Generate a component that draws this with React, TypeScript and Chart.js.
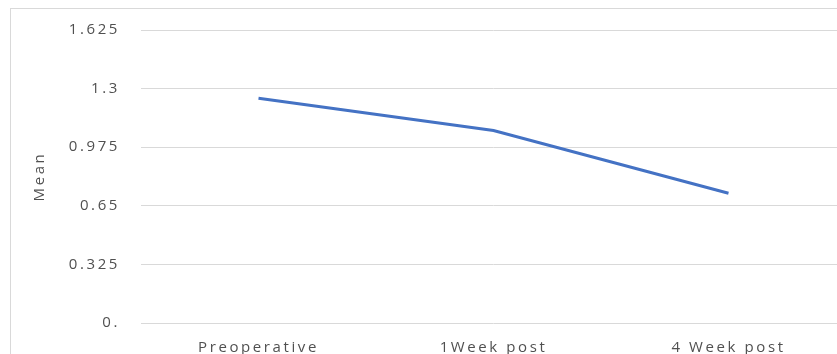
import React, { useEffect, useRef } from "react";
import { Chart, registerables } from "chart.js";

Chart.register(...registerables);

const categories = ["Preoperative", "1Week post", "4 Week post"];
const meanValues = [1.247, 1.068, 0.72];
const tickValues = [0, 0.325, 0.65, 0.975, 1.3, 1.625];
const tickLabels = ["0.", "0.325", "0.65", "0.975", "1.3", "1.625"];

const spacingPlugin = {
  id: "letterSpacing",
  beforeDraw: (chart: any) => {
    (chart.ctx as any).letterSpacing = "2.6px";
  },
  afterDraw: (chart: any) => {
    (chart.ctx as any).letterSpacing = "0px";
  },
};

export default function App() {
  const ref = useRef<HTMLCanvasElement | null>(null);

  useEffect(() => {
    document.body.style.margin = "0";
    const canvas = ref.current;
    if (!canvas) return;
    const textColor = "#505050";
    const font = { family: "'Open Sans'", size: 15 };
    const chart = new Chart(canvas, {
      type: "line",
      data: {
        labels: categories,
        datasets: [
          {
            label: "Mean",
            data: meanValues,
            borderColor: "#4472C4",
            backgroundColor: "#4472C4",
            borderWidth: 3,
            pointRadius: 0,
            tension: 0,
          },
        ],
      },
      plugins: [spacingPlugin],
      options: {
        animation: false,
        responsive: false,
        maintainAspectRatio: false,
        layout: { padding: { left: 10, top: 21, right: 0, bottom: 0 } },
        plugins: { legend: { display: false }, tooltip: { enabled: false } },
        scales: {
          x: {
            type: "category",
            offset: true,
            grid: { display: false, drawTicks: false },
            border: { display: false },
            ticks: {
              color: textColor,
              font,
              padding: 16,
              maxRotation: 0,
              autoSkip: false,
            },
            afterFit: (scale: any) => {
              scale.height = 37;
            },
          },
          y: {
            min: 0,
            max: 1.625,
            afterBuildTicks: (scale: any) => {
              scale.ticks = tickValues.map((v) => ({ value: v }));
            },
            grid: { color: "#d9d9d9", drawTicks: false, lineWidth: 1 },
            border: { display: false },
            ticks: {
              color: textColor,
              font,
              padding: 21,
              callback: (_v: any, i: number) => tickLabels[i],
            },
            title: {
              display: true,
              text: "Mean",
              color: textColor,
              font,
              padding: { top: 21, bottom: 0 },
            },
            afterFit: (scale: any) => {
              scale.width = 131;
            },
          },
        },
      },
    });
    return () => chart.destroy();
  }, []);

  return (
    <div
      style={{
        position: "relative",
        width: 837,
        height: 354,
        overflow: "hidden",
        background: "#fff",
      }}
    >
      <div
        style={{
          position: "absolute",
          left: 10,
          top: 8,
          width: 900,
          height: 400,
          border: "1px solid #d9d9d9",
          boxSizing: "border-box",
        }}
      />
      <canvas
        ref={ref}
        width={846}
        height={360}
        style={{ position: "absolute", left: 0, top: 0, width: 846, height: 360 }}
      />
    </div>
  );
}
